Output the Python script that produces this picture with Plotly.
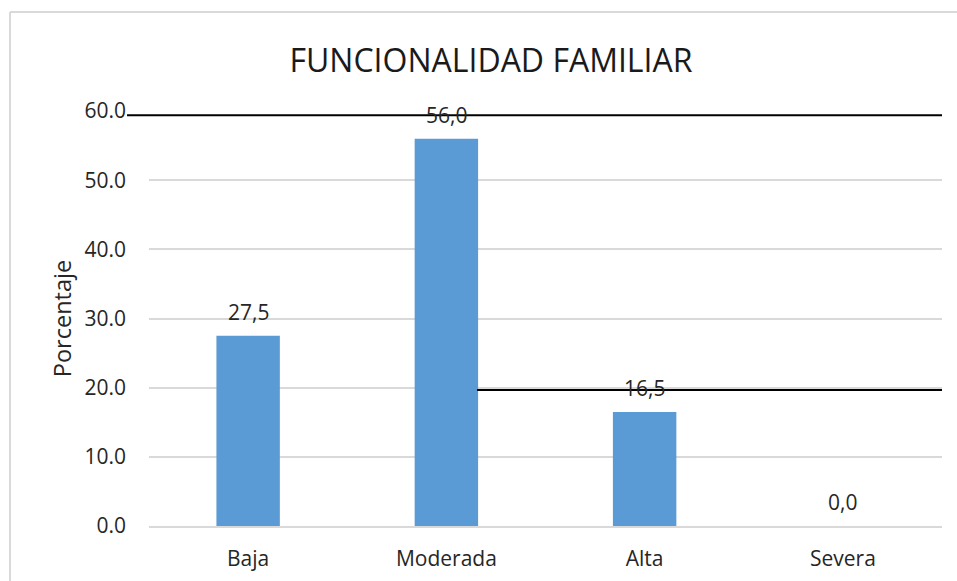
import plotly.graph_objects as go

categories = ["Baja", "Moderada", "Alta", "Severa"]
porcentaje = [27.5, 56.0, 16.5, 0.0]
y_ticks = [0, 10, 20, 30, 40, 50, 60]
y_tick_labels = ["0.0", "10.0", "20.0", "30.0", "40.0", "50.0", "60.0"]
title_text = "FUNCIONALIDAD FAMILIAR"
y_title = "Porcentaje"

FONT = "Open Sans"
TXT = "#262626"

labels = [f"{v:.1f}".replace(".", ",") for v in porcentaje]

fig = go.Figure()
fig.add_trace(go.Bar(
    x=categories, y=porcentaje,
    marker=dict(color="#5b9bd5", line=dict(width=0)),
    hoverinfo="skip",
))

for c, v, t in zip(categories, porcentaje, labels):
    fig.add_annotation(x=c, y=v, text=t, showarrow=False, yanchor="bottom",
                       yshift=8, font=dict(family=FONT, size=21, color=TXT))

# chart frame (light gray) and stray black lines from the source document
fig.add_shape(type="line", xref="paper", yref="paper", x0=-0.1753, x1=1.5,
              y0=1.2386, y1=1.2386, line=dict(color="#d9d9d9", width=2))
fig.add_shape(type="line", xref="paper", yref="paper", x0=-0.1753, x1=-0.1753,
              y0=-1, y1=1.2386, line=dict(color="#d9d9d9", width=2))
fig.add_shape(type="line", xref="paper", yref="y", x0=-0.0277, x1=1.0,
              y0=59.4, y1=59.4, line=dict(color="black", width=2), layer="above")
fig.add_shape(type="line", xref="paper", yref="y", x0=0.4136, x1=1.0,
              y0=19.65, y1=19.65, line=dict(color="black", width=2), layer="above")

fig.update_layout(
    width=957, height=581,
    margin=dict(l=149, r=15, t=111, b=55),
    paper_bgcolor="white", plot_bgcolor="white",
    bargap=0.68,
    showlegend=False,
    title=dict(text=title_text, x=491/957, xanchor="center", y=1 - 60.5/581, yanchor="middle",
               font=dict(family=FONT, size=32, color="#1a1a1a")),
    font=dict(family=FONT, color=TXT),
)
fig.update_xaxes(
    showgrid=False, zeroline=False, showline=True, linecolor="#d9d9d9", linewidth=1.5,
    tickfont=dict(family=FONT, size=21, color=TXT), ticks="", ticklabelstandoff=13,
    automargin=False,
)
fig.update_yaxes(
    range=[0, 60], tickvals=y_ticks, ticktext=y_tick_labels,
    showgrid=True, gridcolor="#d9d9d9", gridwidth=1.5, zeroline=False, showline=False,
    tickfont=dict(family=FONT, size=21, color=TXT), ticks="", ticklabelstandoff=22,
    title=dict(text=y_title, font=dict(family=FONT, size=23.5, color=TXT), standoff=6),
)

fig.write_html("out.html", config={"displayModeBar": False},
               post_script="document.body.style.margin='0';")
